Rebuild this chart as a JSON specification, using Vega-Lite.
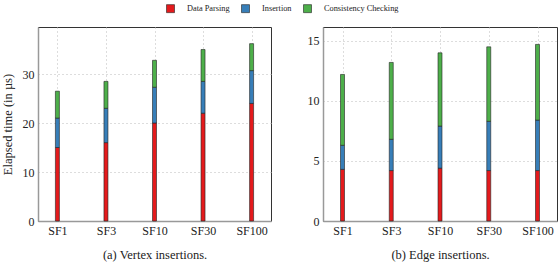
{
  "$schema": "https://vega.github.io/schema/vega-lite/v6.json",
  "background": "white",
  "padding": {"left": 0, "top": 4, "right": 0, "bottom": 2},
  "config": {
    "font": "Liberation Serif",
    "view": {"stroke": "#333", "strokeWidth": 1},
    "axis": {
      "labelFont": "Liberation Serif",
      "labelFontSize": 12,
      "labelColor": "#222",
      "titleFont": "Liberation Serif",
      "titleFontSize": 12.5,
      "titleFontWeight": "normal",
      "titleColor": "#222",
      "ticks": false,
      "domainColor": "#999",
      "domainWidth": 1.5,
      "gridColor": "#bbb",
      "gridDash": [1, 3],
      "gridWidth": 1
    },
    "legend": {
      "labelFont": "Liberation Serif",
      "labelFontSize": 8.3,
      "labelColor": "#222"
    }
  },
  "datasets": {
    "vertex": [
      {"sf": "SF1", "phase": "Data Parsing", "time": 15.0},
      {"sf": "SF1", "phase": "Insertion", "time": 6.0},
      {"sf": "SF1", "phase": "Consistency Checking", "time": 5.5},
      {"sf": "SF3", "phase": "Data Parsing", "time": 16.0},
      {"sf": "SF3", "phase": "Insertion", "time": 7.0},
      {"sf": "SF3", "phase": "Consistency Checking", "time": 5.5},
      {"sf": "SF10", "phase": "Data Parsing", "time": 20.0},
      {"sf": "SF10", "phase": "Insertion", "time": 7.3},
      {"sf": "SF10", "phase": "Consistency Checking", "time": 5.5},
      {"sf": "SF30", "phase": "Data Parsing", "time": 22.0},
      {"sf": "SF30", "phase": "Insertion", "time": 6.5},
      {"sf": "SF30", "phase": "Consistency Checking", "time": 6.5},
      {"sf": "SF100", "phase": "Data Parsing", "time": 24.0},
      {"sf": "SF100", "phase": "Insertion", "time": 6.7},
      {"sf": "SF100", "phase": "Consistency Checking", "time": 5.5}
    ],
    "edge": [
      {"sf": "SF1", "phase": "Data Parsing", "time": 4.3},
      {"sf": "SF1", "phase": "Insertion", "time": 2.0},
      {"sf": "SF1", "phase": "Consistency Checking", "time": 5.9},
      {"sf": "SF3", "phase": "Data Parsing", "time": 4.2},
      {"sf": "SF3", "phase": "Insertion", "time": 2.6},
      {"sf": "SF3", "phase": "Consistency Checking", "time": 6.4},
      {"sf": "SF10", "phase": "Data Parsing", "time": 4.4},
      {"sf": "SF10", "phase": "Insertion", "time": 3.5},
      {"sf": "SF10", "phase": "Consistency Checking", "time": 6.1},
      {"sf": "SF30", "phase": "Data Parsing", "time": 4.2},
      {"sf": "SF30", "phase": "Insertion", "time": 4.1},
      {"sf": "SF30", "phase": "Consistency Checking", "time": 6.2},
      {"sf": "SF100", "phase": "Data Parsing", "time": 4.2},
      {"sf": "SF100", "phase": "Insertion", "time": 4.2},
      {"sf": "SF100", "phase": "Consistency Checking", "time": 6.3}
    ]
  },
  "spacing": 34,
  "hconcat": [
    {
      "width": 233,
      "height": 194,
      "data": {"name": "vertex"},
      "transform": [
        {"calculate": "indexof(['Data Parsing', 'Insertion', 'Consistency Checking'], datum.phase)", "as": "stage"}
      ],
      "mark": {"type": "bar", "size": 4, "stroke": "#222", "strokeWidth": 0.6},
      "encoding": {
        "x": {
          "field": "sf",
          "type": "ordinal",
          "sort": ["SF1", "SF3", "SF10", "SF30", "SF100"],
          "scale": {"type": "point", "padding": 0.4},
          "axis": {"labelAngle": 0, "grid": true, "title": "(a) Vertex insertions.", "titlePadding": 12, "labelPadding": 4}
        },
        "y": {
          "field": "time",
          "type": "quantitative",
          "stack": "zero",
          "scale": {"domain": [0, 39.6], "nice": false},
          "axis": {"values": [0, 10, 20, 30], "title": "Elapsed time (in µs)", "labelPadding": 4, "titlePadding": 8}
        },
        "order": {"field": "stage", "type": "quantitative", "sort": "ascending"},
        "color": {
          "field": "phase",
          "type": "nominal",
          "scale": {"domain": ["Data Parsing", "Insertion", "Consistency Checking"], "range": ["#e41a1c", "#377eb8", "#4daf4a"]},
          "legend": {"orient": "none", "legendX": 128, "legendY": -23, "direction": "horizontal", "title": null, "symbolType": "square", "symbolSize": 64, "symbolStrokeColor": "#222", "symbolStrokeWidth": 0.6, "columnPadding": 10, "labelOffset": 12}
        }
      }
    },
    {
      "width": 234,
      "height": 194,
      "data": {"name": "edge"},
      "transform": [
        {"calculate": "indexof(['Data Parsing', 'Insertion', 'Consistency Checking'], datum.phase)", "as": "stage"}
      ],
      "mark": {"type": "bar", "size": 4, "stroke": "#222", "strokeWidth": 0.6},
      "encoding": {
        "x": {
          "field": "sf",
          "type": "ordinal",
          "sort": ["SF1", "SF3", "SF10", "SF30", "SF100"],
          "scale": {"type": "point", "padding": 0.4},
          "axis": {"labelAngle": 0, "grid": true, "title": "(b) Edge insertions.", "titlePadding": 12, "labelPadding": 4}
        },
        "y": {
          "field": "time",
          "type": "quantitative",
          "stack": "zero",
          "scale": {"domain": [0, 16.15], "nice": false},
          "axis": {"values": [0, 5, 10, 15], "title": null, "labelPadding": 4}
        },
        "order": {"field": "stage", "type": "quantitative", "sort": "ascending"},
        "color": {
          "field": "phase",
          "type": "nominal"
        }
      }
    }
  ]
}
